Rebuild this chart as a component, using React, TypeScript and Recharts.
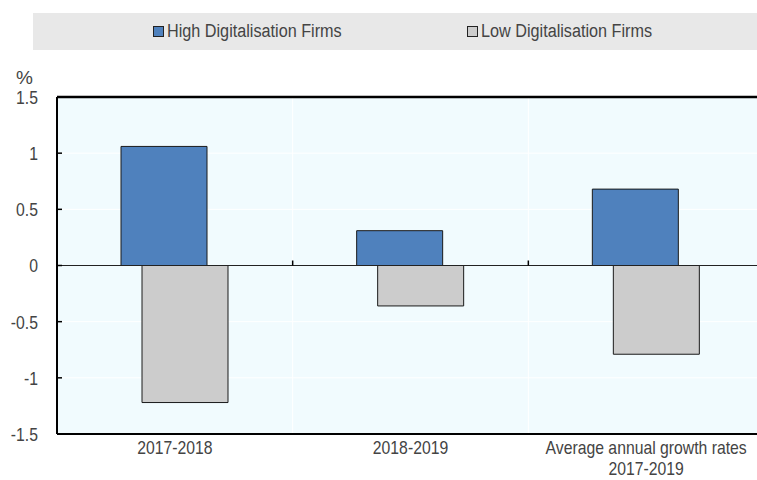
import React from 'react';
import { BarChart, Bar, XAxis, YAxis, CartesianGrid, ReferenceLine, Label } from 'recharts';

const categories = ['2017-2018', '2018-2019', 'Average annual growth rates\n2017-2019'];
const highValues = [1.06, 0.31, 0.68];
const lowValues = [-1.22, -0.36, -0.79];
const yTicks = [-1.5, -1, -0.5, 0, 0.5, 1, 1.5];
const innerBoundaries = [1, 2];
const seriesNames = ['High Digitalisation Firms', 'Low Digitalisation Firms'];
const seriesColors = ['#4F81BD', '#CCCCCC'];

const data = categories.map((c, i) => ({ name: c, high: highValues[i], low: lowValues[i] }));

const FONT = "'Liberation Sans', Arial, sans-serif";
const TEXT = '#444444';
const NARROW = 0.83;

const YTick = (props: any) => {
  const { x, y, payload } = props;
  const axisX = x + 19;
  return (
    <g>
      <line x1={axisX} x2={axisX + 5} y1={y} y2={y} stroke="#000" strokeWidth={1.5} />
      <text
        transform={`translate(${x} ${y}) scale(${NARROW} 1)`}
        x={0}
        y={0}
        dy="0.36em"
        textAnchor="end"
        fill={TEXT}
        fontSize={19}
        fontFamily={FONT}
      >
        {String(payload.value)}
      </text>
    </g>
  );
};

const XTick = (props: any) => {
  const { x, y, payload } = props;
  const lines = String(payload.value).split('\n');
  return (
    <text
      transform={`translate(${x} ${y}) scale(0.876 1)`}
      x={0}
      y={0}
      textAnchor="middle"
      fill={TEXT}
      fontSize={18}
      fontFamily={FONT}
    >
      {lines.map((l, i) => (
        <tspan key={i} x={0} dy={i === 0 ? '0.71em' : 21}>
          {l}
        </tspan>
      ))}
    </text>
  );
};

const ZeroLine = (props: any) => {
  const { x1, x2, y1, y2 } = props;
  const w = x2 - x1;
  return (
    <g>
      <line x1={x1} x2={x2} y1={y1} y2={y2} stroke="#222" strokeWidth={1.2} />
      {innerBoundaries.map((b) => {
        const bx = x1 + (b * w) / categories.length;
        return <line key={b} x1={bx} x2={bx} y1={y1} y2={y1 - 5} stroke="#000" strokeWidth={1.5} />;
      })}
    </g>
  );
};

const legendLefts = [120, 434];

export default function App() {
  return (
    <div style={{ position: 'absolute', left: 0, top: 0, width: 757, height: 480, overflow: 'hidden', background: '#fff' }}>
      <div
        style={{
          position: 'absolute',
          left: 33,
          top: 13,
          width: 724,
          height: 37,
          background: '#E8E8E8',
          fontFamily: FONT,
          fontSize: 18,
          color: TEXT,
        }}
      >
        {seriesNames.map((n, i) => (
          <div
            key={n}
            style={{ position: 'absolute', left: legendLefts[i], top: 0, height: 37, display: 'flex', alignItems: 'center', whiteSpace: 'nowrap' }}
          >
            <span
              style={{
                display: 'inline-block',
                width: 9,
                height: 9,
                border: '1px solid #222',
                background: seriesColors[i],
                marginRight: 3,
              }}
            />
            <span style={{ display: 'inline-block', transform: 'scaleX(0.9)', transformOrigin: 'left center' }}>{n}</span>
          </div>
        ))}
      </div>
      <BarChart
        width={764}
        height={480}
        data={data}
        margin={{ top: 97, right: 0, bottom: 0, left: 0 }}
        barGap={-65}
        barSize={86}
      >
        <CartesianGrid
          fill="#F1FBFE"
          stroke="#FFFFFF"
          strokeWidth={1}
          verticalCoordinatesGenerator={({ offset }: any) =>
            innerBoundaries.map((b) => offset.left + (b * offset.width) / categories.length)
          }
        />
        <XAxis
          dataKey="name"
          height={46}
          tickSize={0}
          tickMargin={7}
          tick={<XTick />}
          axisLine={{ stroke: '#000', strokeWidth: 2 }}
          tickLine={false}
          interval={0}
        />
        <YAxis
          width={57}
          domain={[-1.5, 1.5]}
          ticks={yTicks}
          tickSize={0}
          tickMargin={19}
          tick={<YTick />}
          tickLine={false}
          axisLine={{ stroke: '#000', strokeWidth: 2 }}
          interval={0}
        >
          <Label value="%" position="top" offset={13} dx={-4} fill={TEXT} fontSize={19} fontFamily={FONT} />
        </YAxis>
        <Bar dataKey="high" name={seriesNames[0]} fill={seriesColors[0]} stroke="#1a1a1a" strokeWidth={1} isAnimationActive={false} />
        <Bar dataKey="low" name={seriesNames[1]} fill={seriesColors[1]} stroke="#1a1a1a" strokeWidth={1} isAnimationActive={false} />
        <ReferenceLine y={0} stroke="#222" strokeWidth={1.2} shape={<ZeroLine />} />
        <ReferenceLine y={1.5} stroke="#000" strokeWidth={2.5} />
      </BarChart>
    </div>
  );
}
